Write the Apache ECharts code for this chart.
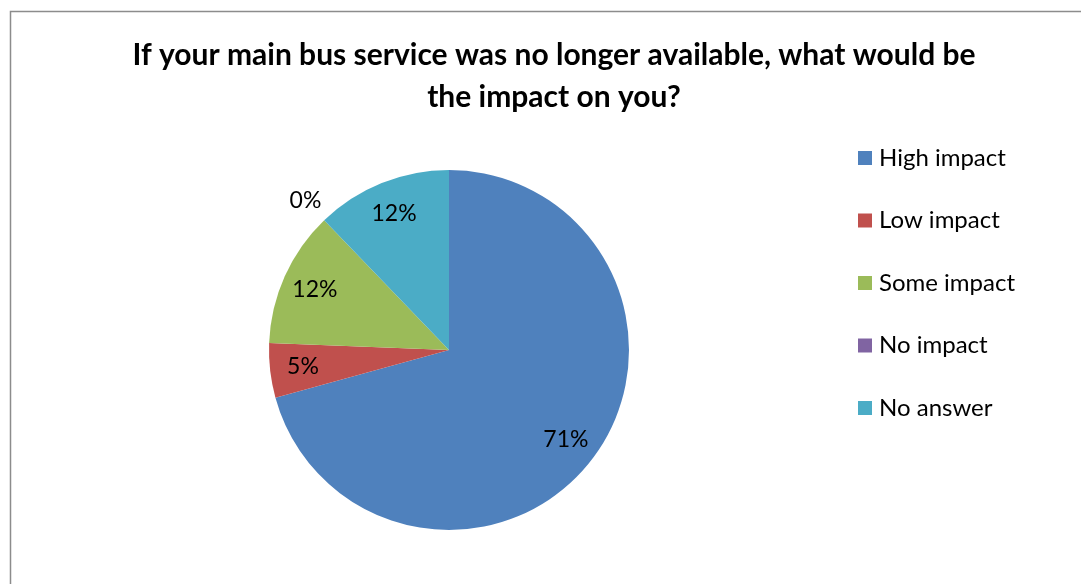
<!DOCTYPE html>
<html><head><meta charset="utf-8">
<script src="https://cdn.jsdelivr.net/npm/echarts@6/dist/echarts.min.js"></script>
<style>html,body{margin:0;padding:0;background:#fff}#c{width:1081px;height:584px}</style>
</head><body><div id="c"></div>
<script>
const titleText = 'If your main bus service was no longer available, what would be\nthe impact on you?';
const categories = ['High impact', 'Low impact', 'Some impact', 'No impact', 'No answer'];
const counts = [29, 2, 5, 0, 5];
const colors = ['#4F81BD', '#C0504D', '#9BBB59', '#8064A2', '#4BACC6'];

const FONT = 'Lato, "Open Sans", sans-serif';
const total = counts.reduce((a, b) => a + b, 0);
const pct = v => Math.round(v / total * 100) + '%';

const mainData = categories.map((n, i) => ({
  name: n, value: counts[i], itemStyle: { color: colors[i] },
  label: counts[i] === 0 ? { show: true } : { show: false }
}));
const labelData = categories.map((n, i) => ({
  name: n, value: counts[i],
  label: { show: counts[i] !== 0 }
}));

const chart = echarts.init(document.getElementById('c'), null, { renderer: 'canvas' });
chart.setOption({
  animation: false,
  backgroundColor: '#fff',
  graphic: [{
    type: 'rect', left: 8, top: 9, shape: { width: 1200, height: 700 },
    style: { fill: 'none', stroke: '#8c8c8c', lineWidth: 1.5 }, silent: true
  }],
  title: {
    text: titleText, left: 549, top: 29, textAlign: 'center',
    textStyle: { fontFamily: FONT, fontWeight: 'bold', fontSize: 30, color: '#000', lineHeight: 42 }
  },
  legend: {
    orient: 'vertical', left: 853, top: 141,
    data: categories, icon: 'rect', itemWidth: 14, itemHeight: 14, itemGap: 38.5,
    textStyle: { fontFamily: FONT, fontSize: 24, lineHeight: 24, color: '#000', padding: [0, 0, 0, 2] },
    selectedMode: false
  },
  series: [{
    type: 'pie', center: [449, 350], radius: 180, startAngle: 90, clockwise: true,
    avoidLabelOverlap: false, silent: true, minShowLabelAngle: 0,
    data: mainData,
    label: { position: 'outside', formatter: p => pct(p.value),
      fontFamily: FONT, fontSize: 23, color: '#000', distance: 0 },
    labelLine: { show: false, length: 20, length2: 0 },
    labelLayout: p => ({ dx: 16, dy: -5 })
  }, {
    type: 'pie', center: [449, 350], radius: [0, 288], startAngle: 90, clockwise: true,
    avoidLabelOverlap: false, silent: true, legendHoverLink: false,
    itemStyle: { color: 'rgba(0,0,0,0)' },
    data: labelData,
    label: { position: 'inside', formatter: p => pct(p.value),
      fontFamily: FONT, fontSize: 23, color: '#000' },
    labelLine: { show: false }
  }]
});
</script></body></html>
